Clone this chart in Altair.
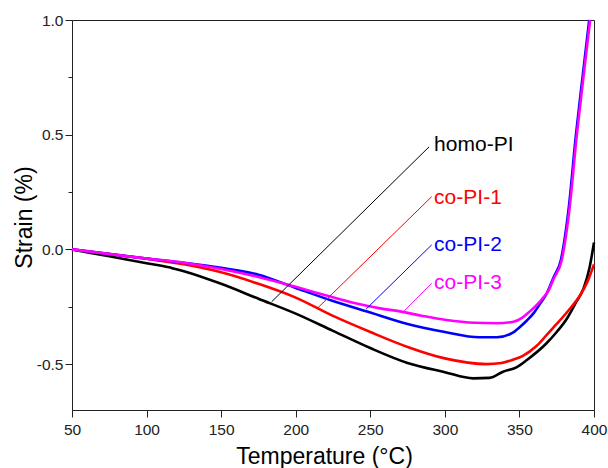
import altair as alt
import pandas as pd

# ---- data ----
series_names = ["homo-PI", "co-PI-1", "co-PI-2", "co-PI-3"]
series_colors = ["#000000", "#ff0000", "#0000ff", "#ff00ff"]

homo_T = [50, 75, 100, 115, 118, 125, 150, 175, 200, 225, 250, 275, 300, 319, 330, 339, 348, 355, 368, 375, 382, 388, 393, 397, 400]
homo_S = [0.0, -0.03, -0.06, -0.078, -0.083, -0.095, -0.15, -0.215, -0.28, -0.355, -0.43, -0.495, -0.535, -0.562, -0.56, -0.533, -0.514, -0.482, -0.41, -0.36, -0.30, -0.23, -0.17, -0.08, 0.03]

co1_T = [50, 75, 100, 125, 150, 175, 200, 225, 250, 275, 300, 328, 338, 346, 352, 361.6, 368, 375, 383, 390.7, 396, 400]
co1_S = [0.0, -0.02, -0.04, -0.065, -0.10, -0.15, -0.21, -0.29, -0.36, -0.425, -0.475, -0.50, -0.495, -0.48, -0.465, -0.42, -0.375, -0.325, -0.265, -0.20, -0.135, -0.065]

co2_T = [50, 100, 125, 150, 175, 200, 225, 250, 275, 300, 323, 335, 345, 350.5, 355, 359.4, 364, 368.4, 373, 377.8, 382.9, 387.9, 392.3, 396.8]
co2_S = [0.0, -0.04, -0.058, -0.08, -0.11, -0.168, -0.225, -0.275, -0.325, -0.36, -0.383, -0.383, -0.365, -0.337, -0.31, -0.279, -0.235, -0.191, -0.12, -0.046, 0.172, 0.5, 0.75, 1.0]

co3_T = [50, 100, 125, 150, 175, 200, 220, 240, 256.6, 270, 285, 301, 320, 335, 346, 352, 357, 362, 366, 369.5, 372.8, 378.4, 383.5, 388.5, 392.9, 397.4]
co3_S = [0.0, -0.04, -0.058, -0.085, -0.12, -0.163, -0.20, -0.235, -0.257, -0.27, -0.29, -0.308, -0.32, -0.322, -0.315, -0.297, -0.27, -0.24, -0.21, -0.18, -0.13, -0.046, 0.172, 0.5, 0.75, 1.0]

# annotation labels and leader lines (data coordinates)
label_x = [292.8, 292.8, 292.8, 292.8]
label_y = [0.456, 0.224, 0.020, -0.148]
leader_x1 = [183.9, 214.5, 247.2, 272.5]
leader_y1 = [-0.228, -0.257, -0.26, -0.27]
leader_x2 = [289.4, 291.2, 291.2, 291.2]
leader_y2 = [0.447, 0.23, 0.02, -0.148]

x_ticks = [50, 75, 100, 125, 150, 175, 200, 225, 250, 275, 300, 325, 350, 375, 400]
y_ticks = [-0.5, -0.25, 0.0, 0.25, 0.5, 0.75, 1.0]

# ---- build tables ----
rows = []
for name, T, S in zip(series_names, [homo_T, co1_T, co2_T, co3_T], [homo_S, co1_S, co2_S, co3_S]):
    for t, s in zip(T, S):
        rows.append({"series": name, "T": t, "S": s})
curves = pd.DataFrame(rows)

labels = pd.DataFrame({"series": series_names, "x": label_x, "y": label_y})
leaders = pd.DataFrame({"series": series_names, "x": leader_x1, "y": leader_y1,
                        "x2": leader_x2, "y2": leader_y2})

FONT = "Liberation Sans"
xscale = alt.Scale(domain=[50, 400], nice=False, zero=False)
yscale = alt.Scale(domain=[-0.7, 1.0], nice=False, zero=False)
cscale = alt.Scale(domain=series_names, range=series_colors)

common_axis = dict(grid=False, domainColor="#222222", tickColor="#222222",
                   labelColor="#222222", titleColor="#000000", labelFont=FONT,
                   titleFont=FONT, labelFontSize=15.5, titleFontSize=23,
                   titleFontWeight="normal", domainWidth=1, tickWidth=1,
                   labelFlush=False, labelOverlap=False)

x_major_test = "datum.value % 50 === 0"
y_major_test = "abs(datum.value * 2 - round(datum.value * 2)) < 0.001"

lines = alt.Chart(curves).mark_line(strokeWidth=2.6, interpolate="monotone").encode(
    x=alt.X("T:Q", scale=xscale,
            axis=alt.Axis(values=x_ticks,
                          tickSize={"condition": {"test": x_major_test, "value": 7}, "value": 4},
                          labelExpr=f"{x_major_test} ? datum.label : ''",
                          labelPadding=5, title="Temperature (°C)",
                          titlePadding=8, titleX=252, orient="bottom", **common_axis)),
    y=alt.Y("S:Q", scale=yscale,
            axis=alt.Axis(values=y_ticks, format=".1f",
                          tickSize={"condition": {"test": y_major_test, "value": 7}, "value": 4},
                          labelExpr=f"{y_major_test} ? replace(datum.label, '\u2212', '-') : ''",
                          labelPadding=2, title="Strain (%)", titlePadding=0, titleY=197,
                          orient="left", **common_axis)),
    color=alt.Color("series:N", scale=cscale, legend=None),
    order=alt.Order("series_order:Q"),
).transform_calculate(
    series_order="indexof(['homo-PI','co-PI-1','co-PI-2','co-PI-3'], datum.series)"
)

leader_layer = alt.Chart(leaders).mark_rule(strokeWidth=1).encode(
    x=alt.X("x:Q", scale=xscale),
    y=alt.Y("y:Q", scale=yscale),
    x2="x2:Q",
    y2="y2:Q",
    color=alt.Color("series:N", scale=cscale, legend=None),
)

text_layer = alt.Chart(labels).mark_text(align="left", baseline="middle", fontSize=21,
                                         font=FONT).encode(
    x=alt.X("x:Q", scale=xscale),
    y=alt.Y("y:Q", scale=yscale),
    text="series:N",
    color=alt.Color("series:N", scale=cscale, legend=None),
)

chart = alt.layer(lines, leader_layer, text_layer).properties(
    width=522, height=390,
    autosize=alt.AutoSizeParams(type="none"),
    padding={"left": 72, "top": 20, "right": 14, "bottom": 58},
    background="white",
).configure_view(stroke="#222222", strokeWidth=1)

chart.save("out.html", embed_options={"renderer": "svg", "actions": False})
